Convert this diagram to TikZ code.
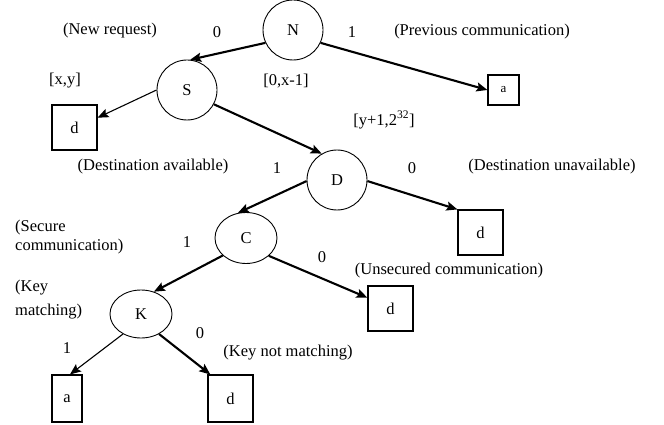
\documentclass[tikz,border=0pt]{standalone}
\usepackage{fontspec}
\setmainfont{Liberation Serif}
\usetikzlibrary{shapes.geometric,arrows.meta}
\begin{document}
\begin{tikzpicture}[x=1pt,y=-1pt,
  every node/.style={font=\fontsize{16.5}{19}\selectfont, inner sep=0pt},
  state/.style={ellipse, draw, line width=0.9pt, minimum width=60pt, minimum height=60pt},
  leaf/.style={rectangle, draw, line width=1.1pt},
  thick edge/.style={line width=2.1pt, -{Stealth[length=11pt,width=9pt,inset=2pt]}},
  thin edge/.style={line width=1.1pt, -{Stealth[length=11pt,width=9pt,inset=2pt]}},
  lbl/.style={}
]
\useasboundingbox (0,0) rectangle (664,425);

% decision nodes
\node[state] (N) at (293,30) {N};
\node[state] (S) at (187,90) {S};
\node[state] (D) at (337,180) {D};
\node[state, minimum width=62pt, minimum height=51pt] (C) at (246,238) {C};
\node[state, minimum width=62pt, minimum height=48pt] (K) at (141,314) {K};

% outcome boxes
\node[leaf, minimum width=31pt, minimum height=30pt] (a1) at (503.5,90) {\fontsize{13}{15}\selectfont a};
\node[leaf, minimum width=45pt, minimum height=45pt] (d1) at (74.5,127.5) {d};
\node[leaf, minimum width=45pt, minimum height=45pt] (d2) at (480.5,232.5) {d};
\node[leaf, minimum width=45pt, minimum height=45pt] (d3) at (390.5,308.5) {d};
\node[leaf, minimum width=30pt, minimum height=47pt] (a2) at (67,398.5) {a};
\node[leaf, minimum width=45pt, minimum height=47pt] (d4) at (230.5,398.5) {d};

% branches
\draw[thick edge] (N.205) -- (S.84);
\draw[thick edge] (N.-25) -- (a1.west);
\draw[thin edge]  (S.180) -- (d1.23);
\draw[thick edge] (S.-28) -- (D.120);
\draw[thick edge] (D.182) -- (C.108);
\draw[thick edge] (D.-2) -- (d2.north west);
\draw[thick edge] (C.217) -- (K.60);
\draw[thick edge] (C.-38) -- (d3.155);
\draw[thin edge]  (K.228) -- (a2.83);
\draw[thick edge] (K.-48) -- (d4.130);

% labels
\node[lbl] (l1) at (110,31) {(New request)};
\node[lbl] (l2) at (217,32) {0};
\node[lbl] (l3) at (352,32) {1};
\node[lbl] (l4) at (482,32) {(Previous communication)};
\node[lbl] (l5) at (65,81) {[x,y]};
\node[lbl] (l6) at (286,81) {[0,x-1]};
\node[lbl] (l7) at (384,120) {[y+1,2\textsuperscript{32}]};
\node[lbl] (l8) at (153,167) {(Destination available)};
\node[lbl] (l9) at (277,168) {1};
\node[lbl] (l10) at (412,168) {0};
\node[lbl] (l11) at (552,167) {(Destination unavailable)};
\node[lbl, anchor=west, align=left] (l12) at (15,237) {(Secure\\communication)};
\node[lbl] (l13) at (187,242) {1};
\node[lbl] (l14) at (322,257) {0};
\node[lbl] (l15) at (449,271) {(Unsecured communication)};
\node[lbl, anchor=west, align=left, font=\fontsize{16.5}{24}\selectfont] (l16) at (15,300) {(Key\\matching)};
\node[lbl] (l17) at (67,348) {1};
\node[lbl] (l18) at (200,333) {0};
\node[lbl] (l19) at (288,353) {(Key not matching)};
\end{tikzpicture}
\end{document}
